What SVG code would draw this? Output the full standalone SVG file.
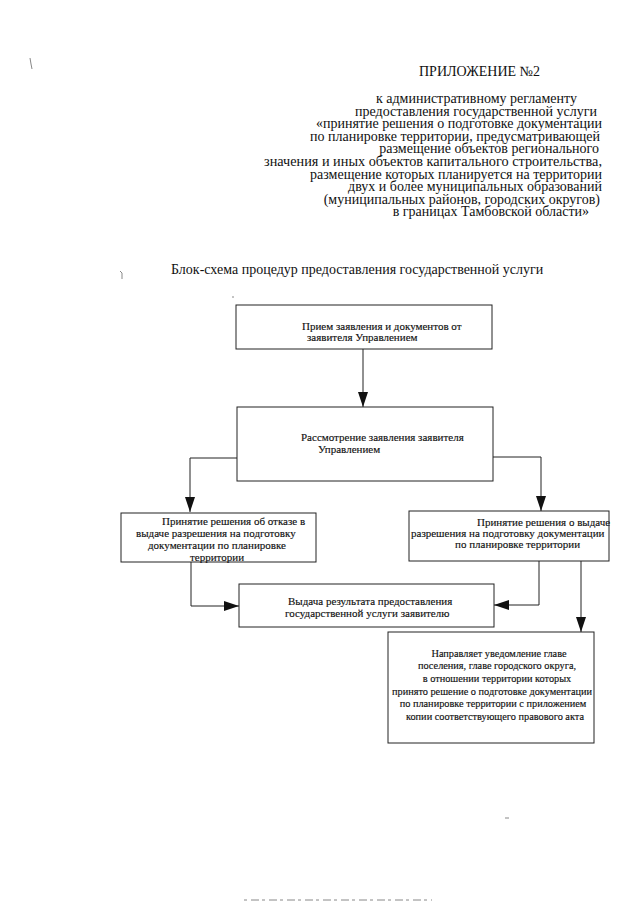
<svg xmlns="http://www.w3.org/2000/svg" width="640" height="905" viewBox="0 0 640 905">
<style>
  .hdr { font-family: "Liberation Serif", "Times New Roman", serif; font-size: 14px; fill: #111; }
  .hr { text-anchor: end; }
  .lbl { font-family: "Liberation Serif", "Times New Roman", serif; font-size: 11px; fill: #111; stroke: #111; stroke-width: 0.15; }
  .sm { font-size: 10.3px; text-anchor: middle; }
  .box { fill: #fff; stroke: #222; stroke-width: 1; }
  .conn { fill: none; stroke: #222; stroke-width: 1; }
  .spot { stroke: #888; stroke-width: 1; fill: none; }
</style>
<defs>
  <marker id="arr" markerUnits="userSpaceOnUse" markerWidth="16" markerHeight="10" refX="15" refY="5" orient="auto">
    <path d="M0,0 L15,5 L0,10 z" fill="#111"/>
  </marker>
</defs>
<rect width="640" height="905" fill="#fff"/>

<g id="header">
  <text class="hdr hr" x="540" y="76">ПРИЛОЖЕНИЕ №2</text>
  <text class="hdr hr" x="577" y="103">к административному регламенту</text>
  <text class="hdr hr" x="597" y="115.6">предоставления государственной услуги</text>
  <text class="hdr hr" x="602" y="128.2">«принятие решения о подготовке документации</text>
  <text class="hdr hr" x="600" y="140.8">по планировке территории, предусматривающей</text>
  <text class="hdr hr" x="599" y="153.4">размещение объектов регионального</text>
  <text class="hdr hr" x="602" y="166" textLength="338" lengthAdjust="spacingAndGlyphs">значения и иных объектов капитального строительства,</text>
  <text class="hdr hr" x="602" y="178.6">размещение которых планируется на территории</text>
  <text class="hdr hr" x="602" y="191.2">двух и более муниципальных образований</text>
  <text class="hdr hr" x="600" y="203.8">(муниципальных районов, городских округов)</text>
  <text class="hdr hr" x="589" y="216.4">в границах Тамбовской области»</text>
  <text class="hdr" x="171" y="274">Блок-схема процедур предоставления государственной услуги</text>
</g>

<g id="connectors">
  <path class="conn" d="M363,349 L363,407" marker-end="url(#arr)"/>
  <path class="conn" d="M237,458 L190,458 L190,512" marker-end="url(#arr)"/>
  <path class="conn" d="M493,457 L541,457 L541,511" marker-end="url(#arr)"/>
  <path class="conn" d="M191,562 L191,606 L239,606" marker-end="url(#arr)"/>
  <path class="conn" d="M539,561 L539,605 L494,605" marker-end="url(#arr)"/>
  <path class="conn" d="M581,561 L581,632" marker-end="url(#arr)"/>
</g>

<g id="node-priem">
  <rect class="box" x="236" y="305" width="256" height="44"/>
  <text class="lbl" x="302" y="330">Прием заявления и документов от</text>
  <text class="lbl" x="307" y="341">заявителя Управлением</text>
</g>

<g id="node-rassmotrenie">
  <rect class="box" x="237" y="407" width="256" height="74"/>
  <text class="lbl" x="301" y="441">Рассмотрение заявления заявителя</text>
  <text class="lbl" x="318" y="453">Управлением</text>
</g>

<g id="node-otkaz">
  <rect class="box" x="121" y="513" width="195" height="49"/>
  <text class="lbl" x="162" y="524.5">Принятие решения об отказе в</text>
  <text class="lbl" x="136" y="536.5">выдаче разрешения на подготовку</text>
  <text class="lbl" x="148" y="548.5">документации по планировке</text>
  <text class="lbl" x="190" y="560.5">территории</text>
</g>

<g id="node-vydacha-razresheniya">
  <rect class="box" x="409" y="511" width="200" height="50"/>
  <text class="lbl" x="477" y="525.5">Принятие решения о выдаче</text>
  <text class="lbl" x="411" y="536.5">разрешения на подготовку документации</text>
  <text class="lbl" x="455" y="547.5">по планировке территории</text>
</g>

<g id="node-rezultat">
  <rect class="box" x="239" y="584" width="255" height="43"/>
  <text class="lbl" x="288" y="605">Выдача результата предоставления</text>
  <text class="lbl" x="285" y="616.5">государственной услуги заявителю</text>
</g>

<g id="node-uvedomlenie">
  <rect class="box" x="388" y="632" width="206" height="111"/>
  <text class="lbl sm" x="499" y="656.5">Направляет уведомление главе</text>
  <text class="lbl sm" x="497" y="669">поселения, главе городского округа,</text>
  <text class="lbl sm" x="497" y="682">в отношении территории которых</text>
  <text class="lbl sm" x="492" y="694.5">принято решение о подготовке документации</text>
  <text class="lbl sm" x="493" y="707">по планировке территории с приложением</text>
  <text class="lbl sm" x="495" y="720">копии соответствующего правового акта</text>
</g>

<g id="scan-marks">
  <path class="spot" d="M30,58 L31,64 L32,69"/>
  <path class="spot" d="M120,271 L122,273 L122,279"/>
  <path class="spot" d="M505,818 L509,818"/>
  <path class="spot" d="M232,297 L234,297"/>
  <path class="spot" stroke-dasharray="3,4,8,3" d="M244,900 L432,900"/>
</g>
</svg>
